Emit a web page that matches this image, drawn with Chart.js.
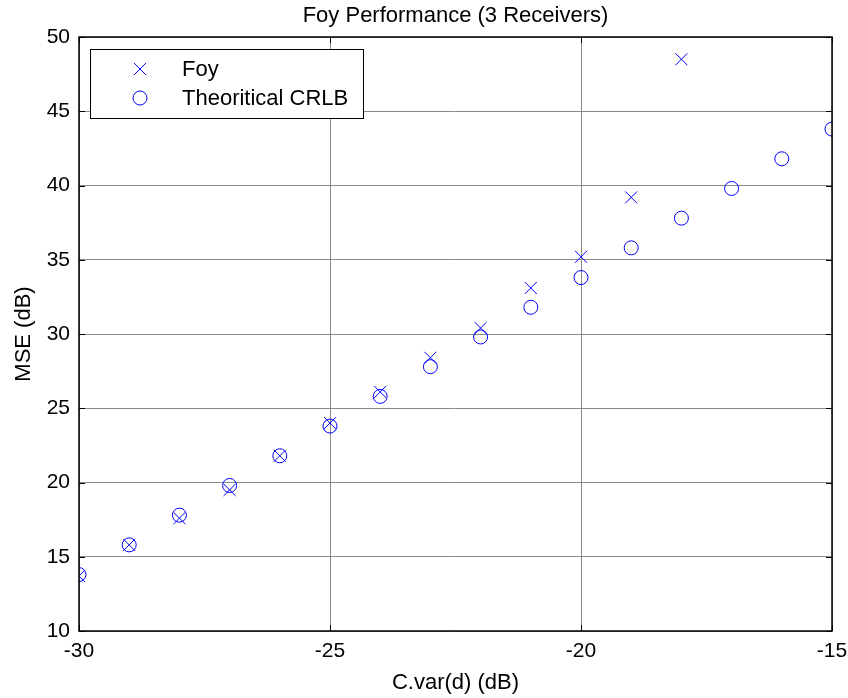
<!DOCTYPE html>
<html lang="en">
<head>
  <title>Foy Performance</title>
  <meta charset="UTF-8">
  <script src="https://cdn.jsdelivr.net/npm/chart.js"></script>
  <style>
    body { margin: 0; background: #fff; }
  </style>
</head>
<body>
  <canvas id="foyChart" width="848" height="698"></canvas>

  <script>
    // C.var(d) in dB for each series
    const foyX = [-30, -29, -28, -27, -26, -25, -24, -23, -22, -21, -20, -19, -18];
    const foyMse = [13.7, 15.8, 17.6, 19.5, 21.8, 24.0, 26.1, 28.4, 30.4, 33.1, 35.2, 39.2, 48.5];

    const crlbX = [-30, -29, -28, -27, -26, -25, -24, -23, -22, -21, -20, -19, -18, -17, -16, -15];
    const crlbMse = [13.8, 15.8, 17.8, 19.8, 21.8, 23.8, 25.8, 27.8, 29.8, 31.8, 33.8, 35.8, 37.8, 39.8, 41.8, 43.8];

    const xTicks = [-30, -25, -20, -15];
    const yTicks = [10, 15, 20, 25, 30, 35, 40, 45, 50];

    const chartTitle = 'Foy Performance (3 Receivers)';

    const toPoints = (xs, ys) => xs.map((x, i) => ({ x: x, y: ys[i] }));
    const blue = '#0000ff';
    const font = 'Liberation Sans, Arial, sans-serif';

    // title centred over the plot area rather than the whole canvas
    const plotTitle = {
      id: 'plotTitle',
      afterDraw(chart) {
        const { ctx, chartArea: a } = chart;
        ctx.save();
        ctx.font = '22px ' + font;
        ctx.fillStyle = '#000';
        ctx.textAlign = 'center';
        ctx.textBaseline = 'middle';
        ctx.fillText(chartTitle, (a.left + a.right) / 2, 16);
        ctx.restore();
      }
    };

    // box around the axes plus inward tick marks on all four sides
    const framePlugin = {
      id: 'frame',
      afterDraw(chart) {
        const { ctx, chartArea: a, scales } = chart;
        const len = 6;
        ctx.save();
        ctx.strokeStyle = '#000';
        ctx.lineWidth = 1;
        ctx.beginPath();
        xTicks.forEach(v => {
          const px = Math.round(scales.x.getPixelForValue(v)) + 0.5;
          ctx.moveTo(px, a.bottom); ctx.lineTo(px, a.bottom - len);
          ctx.moveTo(px, a.top); ctx.lineTo(px, a.top + len);
        });
        yTicks.forEach(v => {
          const py = Math.round(scales.y.getPixelForValue(v)) + 0.5;
          ctx.moveTo(a.left, py); ctx.lineTo(a.left + len, py);
          ctx.moveTo(a.right, py); ctx.lineTo(a.right - len, py);
        });
        ctx.stroke();
        ctx.lineWidth = 1.5;
        ctx.strokeRect(a.left, a.top, a.right - a.left, a.bottom - a.top);
        ctx.restore();
      }
    };

    // legend box inside the top-left corner of the plot
    const boxLegend = {
      id: 'boxLegend',
      afterDraw(chart) {
        const { ctx, chartArea: a } = chart;
        const left = a.left + 11, top = a.top + 12, w = 273, h = 69;
        ctx.save();
        ctx.fillStyle = '#fff';
        ctx.fillRect(left, top, w, h);
        ctx.strokeStyle = '#000';
        ctx.lineWidth = 1;
        ctx.strokeRect(left + 0.5, top + 0.5, w, h);
        ctx.font = '22px ' + font;
        ctx.textBaseline = 'middle';
        chart.data.datasets.forEach((ds, i) => {
          const cy = top + 20 + i * 29;
          ctx.strokeStyle = blue;
          ctx.fillStyle = 'rgba(0,0,0,0)';
          Chart.helpers.drawPoint(ctx, {
            pointStyle: ds.pointStyle,
            radius: ds.pointRadius,
            borderWidth: 1
          }, left + 50, cy);
          ctx.fillStyle = '#000';
          ctx.fillText(ds.label, left + 92, cy + 1);
        });
        ctx.restore();
      }
    };

    const ctx = document.getElementById('foyChart').getContext('2d');
    new Chart(ctx, {
      type: 'scatter',
      data: {
        datasets: [{
          label: 'Foy',
          data: toPoints(foyX, foyMse),
          pointStyle: 'crossRot',
          pointRadius: 8.5,
          borderColor: blue,
          borderWidth: 1,
          backgroundColor: blue
        }, {
          label: 'Theoritical CRLB',
          data: toPoints(crlbX, crlbMse),
          pointStyle: 'circle',
          pointRadius: 7,
          borderColor: blue,
          borderWidth: 1,
          backgroundColor: 'rgba(0,0,0,0)'
        }]
      },
      options: {
        responsive: false,
        animation: false,
        layout: { padding: { left: 0, right: 16, top: 37, bottom: 2 } },
        plugins: {
          legend: { display: false },
          tooltip: { enabled: false },
          title: { display: false }
        },
        scales: {
          x: {
            type: 'linear',
            min: -30,
            max: -15,
            afterBuildTicks: s => { s.ticks = xTicks.map(v => ({ value: v })); },
            afterFit: s => { s.height = 65; s.paddingLeft = 0; s.paddingRight = 0; },
            ticks: { color: '#000', font: { family: font, size: 21 }, padding: 8 },
            grid: { color: '#8a8a8a', drawTicks: false },
            border: { display: false },
            title: {
              display: true,
              text: 'C.var(d) (dB)',
              color: '#000',
              font: { family: font, size: 22 },
              padding: { top: 0, bottom: 0 }
            }
          },
          y: {
            type: 'linear',
            min: 10,
            max: 50,
            afterBuildTicks: s => { s.ticks = yTicks.map(v => ({ value: v })); },
            afterFit: s => { s.width = 79; s.paddingTop = 0; s.paddingBottom = 0; },
            ticks: { color: '#000', font: { family: font, size: 21 }, padding: 9 },
            grid: { color: '#8a8a8a', drawTicks: false },
            border: { display: false },
            title: {
              display: true,
              text: 'MSE (dB)',
              color: '#000',
              font: { family: font, size: 22 },
              padding: { top: 11, bottom: 0 }
            }
          }
        }
      },
      plugins: [framePlugin, boxLegend, plotTitle]
    });
  </script>
</body>
</html>
